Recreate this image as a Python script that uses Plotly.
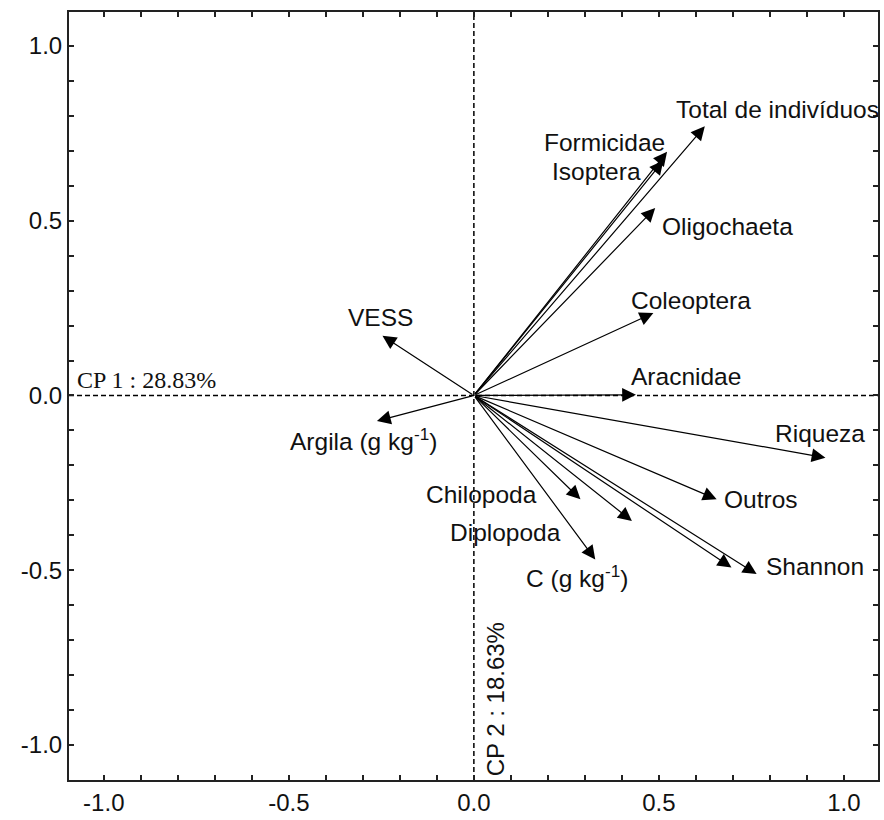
import plotly.graph_objects as go

# ---- data (loadings) ----
variables = ["Total de indivíduos", "Formicidae", "Isoptera", "Oligochaeta", "Coleoptera",
             "Aracnidae", "Riqueza", "Outros", "Shannon", "", "Chilopoda", "Diplopoda",
             "C (g kg<sup>-1</sup>)", "VESS", "Argila (g kg<sup>-1</sup>)"]
cp1 = [0.624, 0.522, 0.512, 0.490, 0.485, 0.438, 0.950, 0.656, 0.764, 0.696, 0.288, 0.427, 0.328, -0.247, -0.262]
cp2 = [0.770, 0.697, 0.672, 0.536, 0.236, 0.002, -0.178, -0.297, -0.511, -0.492, -0.297, -0.359, -0.469, 0.171, -0.073]

tick_vals = [-1.0, -0.5, 0.0, 0.5, 1.0]
tick_text = ["-1.0", "-0.5", "0.0", "0.5", "1.0"]
axis1_label = "CP 1 : 28.83%"
axis2_label = "CP 2 : 18.63%"

# ---- label placement (layout only) ----
label_pos = {
    "Total de indivíduos": (0.542, 0.817, "left"),
    "Formicidae": (0.523, 0.723, "right"),
    "Isoptera": (0.458, 0.640, "right"),
    "Oligochaeta": (0.504, 0.483, "left"),
    "Coleoptera": (0.420, 0.271, "left"),
    "Aracnidae": (0.420, 0.054, "left"),
    "Riqueza": (0.809, -0.109, "left"),
    "Outros": (0.671, -0.297, "left"),
    "Shannon": (0.784, -0.489, "left"),
    "Chilopoda": (0.175, -0.283, "right"),
    "Diplopoda": (0.240, -0.391, "right"),
    "C (g kg<sup>-1</sup>)": (0.135, -0.517, "left"),
    "VESS": (-0.253, 0.223, "center"),
    "Argila (g kg<sup>-1</sup>)": (-0.298, -0.126, "center"),
}

FONT = "Arial, Liberation Sans, sans-serif"
fig = go.Figure()
# invisible trace to set up axes
fig.add_trace(go.Scatter(x=cp1, y=cp2, mode="markers", marker=dict(size=1, opacity=0),
                         hoverinfo="skip", showlegend=False))

annotations = []
for name, x, y in zip(variables, cp1, cp2):
    annotations.append(dict(x=x, y=y, ax=0, ay=0, xref="x", yref="y", axref="x", ayref="y",
                            text="", showarrow=True, arrowhead=2, arrowsize=2.3,
                            arrowwidth=1.2, arrowcolor="#000", standoff=0, startstandoff=0))
for name in variables:
    if name in label_pos:
        lx, ly, anc = label_pos[name]
        annotations.append(dict(x=lx, y=ly, xref="x", yref="y", text=name, showarrow=False,
                                xanchor=anc, yanchor="middle",
                                font=dict(family=FONT, size=24.5, color="#111")))

annotations.append(dict(x=-1.078, y=0.0, xref="x", yref="y", text=axis1_label, showarrow=False,
                        xanchor="left", yanchor="bottom", yshift=0,
                        font=dict(family="Liberation Serif, Times New Roman, serif", size=24, color="#111")))
annotations.append(dict(x=0.0, y=-1.1, xref="x", yref="y", text=axis2_label, showarrow=False,
                        textangle=-90, xanchor="left", yanchor="bottom", xshift=6, yshift=2,
                        font=dict(family=FONT, size=24, color="#111")))

shapes = [
    dict(type="line", xref="x", yref="paper", x0=0, x1=0, y0=0, y1=1,
         line=dict(color="#000", width=1.5, dash="5px,3px"), layer="below"),
    dict(type="line", xref="paper", yref="y", x0=0, x1=1, y0=0, y1=0,
         line=dict(color="#000", width=1.5, dash="5px,3px"), layer="below"),
]

axis_common = dict(
    showgrid=False, zeroline=False, showline=True, linecolor="#222", linewidth=2,
    mirror="allticks", ticks="inside", ticklen=5, tickwidth=1.5, tickcolor="#222",
    tickvals=tick_vals, ticktext=tick_text,
    tickfont=dict(family=FONT, size=24, color="#111"),
    minor=dict(dtick=0.1, tick0=0, ticks="inside", ticklen=5, tickwidth=1.5, tickcolor="#222"),
)

fig.update_layout(
    width=884, height=820,
    margin=dict(l=69, r=4, t=12, b=39),
    paper_bgcolor="white", plot_bgcolor="white",
    xaxis=dict(range=[-1.094, 1.092], **axis_common),
    yaxis=dict(range=[-1.1, 1.097], **axis_common),
    annotations=annotations, shapes=shapes, showlegend=False,
)

fig.write_html("out.html")
